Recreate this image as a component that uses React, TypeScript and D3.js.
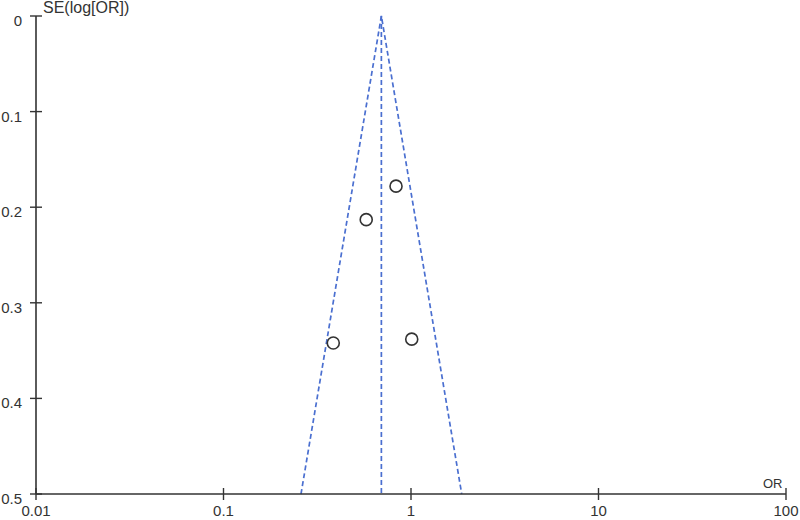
import React from "react";
import * as d3 from "d3";

const xTicks = [0.01, 0.1, 1, 10, 100];
const xTickLabels = ["0.01", "0.1", "1", "10", "100"];
const yTicks = [0, 0.1, 0.2, 0.3, 0.4, 0.5];
const yTickLabels = ["0", "0.1", "0.2", "0.3", "0.4", "0.5"];

const studyOR = [0.832, 0.577, 0.385, 1.009];
const studySE = [0.178, 0.213, 0.342, 0.338];

const pooledOR = 0.695;
const funnelBottomOR = [0.259, 1.864];
const seMax = 0.5;

const W = 800;
const H = 520;
const left = 36;
const right = 786;
const top = 16;
const bottom = 494;

export default function App() {
  const x = d3.scaleLog().domain([0.01, 100]).range([left, right]);
  const y = d3.scaleLinear().domain([0, 0.5]).range([top, bottom]);
  const axisColor = "#333";
  const blue = "#4a6fd0";
  const font = "Arial, 'Liberation Sans', sans-serif";
  const line = d3
    .line<[number, number]>()
    .x((d) => x(d[0]))
    .y((d) => y(d[1]));

  return (
    <svg
      width={W}
      height={H}
      style={{ position: "absolute", left: 0, top: 0, background: "#fff" }}
      fontFamily={font}
    >
      {/* funnel */}
      <path
        d={line([[funnelBottomOR[0], seMax], [pooledOR, 0], [funnelBottomOR[1], seMax]]) || ""}
        fill="none"
        stroke={blue}
        strokeWidth={1.7}
        strokeDasharray="5,3"
      />
      <path
        d={line([[pooledOR, 0], [pooledOR, seMax]]) || ""}
        fill="none"
        stroke={blue}
        strokeWidth={1.7}
        strokeDasharray="5,3"
      />
      {/* axes */}
      <line x1={left} x2={left} y1={top} y2={bottom} stroke={axisColor} strokeWidth={1.6} />
      <line x1={left} x2={right} y1={bottom} y2={bottom} stroke={axisColor} strokeWidth={1.6} />
      {yTicks.map((t, i) => (
        <g key={"y" + i}>
          <line x1={left - 6} x2={left + 6} y1={y(t)} y2={y(t)} stroke={axisColor} strokeWidth={1.4} />
          <text x={22} y={y(t) + 10} textAnchor="end" fontSize={15} fill={axisColor}>
            {yTickLabels[i]}
          </text>
        </g>
      ))}
      {xTicks.map((t, i) => (
        <g key={"x" + i}>
          <line x1={x(t)} x2={x(t)} y1={bottom - 6} y2={bottom + 6} stroke={axisColor} strokeWidth={1.4} />
          <text x={x(t)} y={516} textAnchor="middle" fontSize={15} fill={axisColor}>
            {xTickLabels[i]}
          </text>
        </g>
      ))}
      <text x={43} y={13} fontSize={16} fill={axisColor}>
        SE(log[OR])
      </text>
      <text x={763} y={488} fontSize={13} fill={axisColor}>
        OR
      </text>
      {/* studies */}
      {studyOR.map((o, i) => (
        <circle
          key={"p" + i}
          cx={x(o)}
          cy={y(studySE[i])}
          r={6}
          fill="#fff"
          stroke="#333"
          strokeWidth={1.6}
        />
      ))}
    </svg>
  );
}
